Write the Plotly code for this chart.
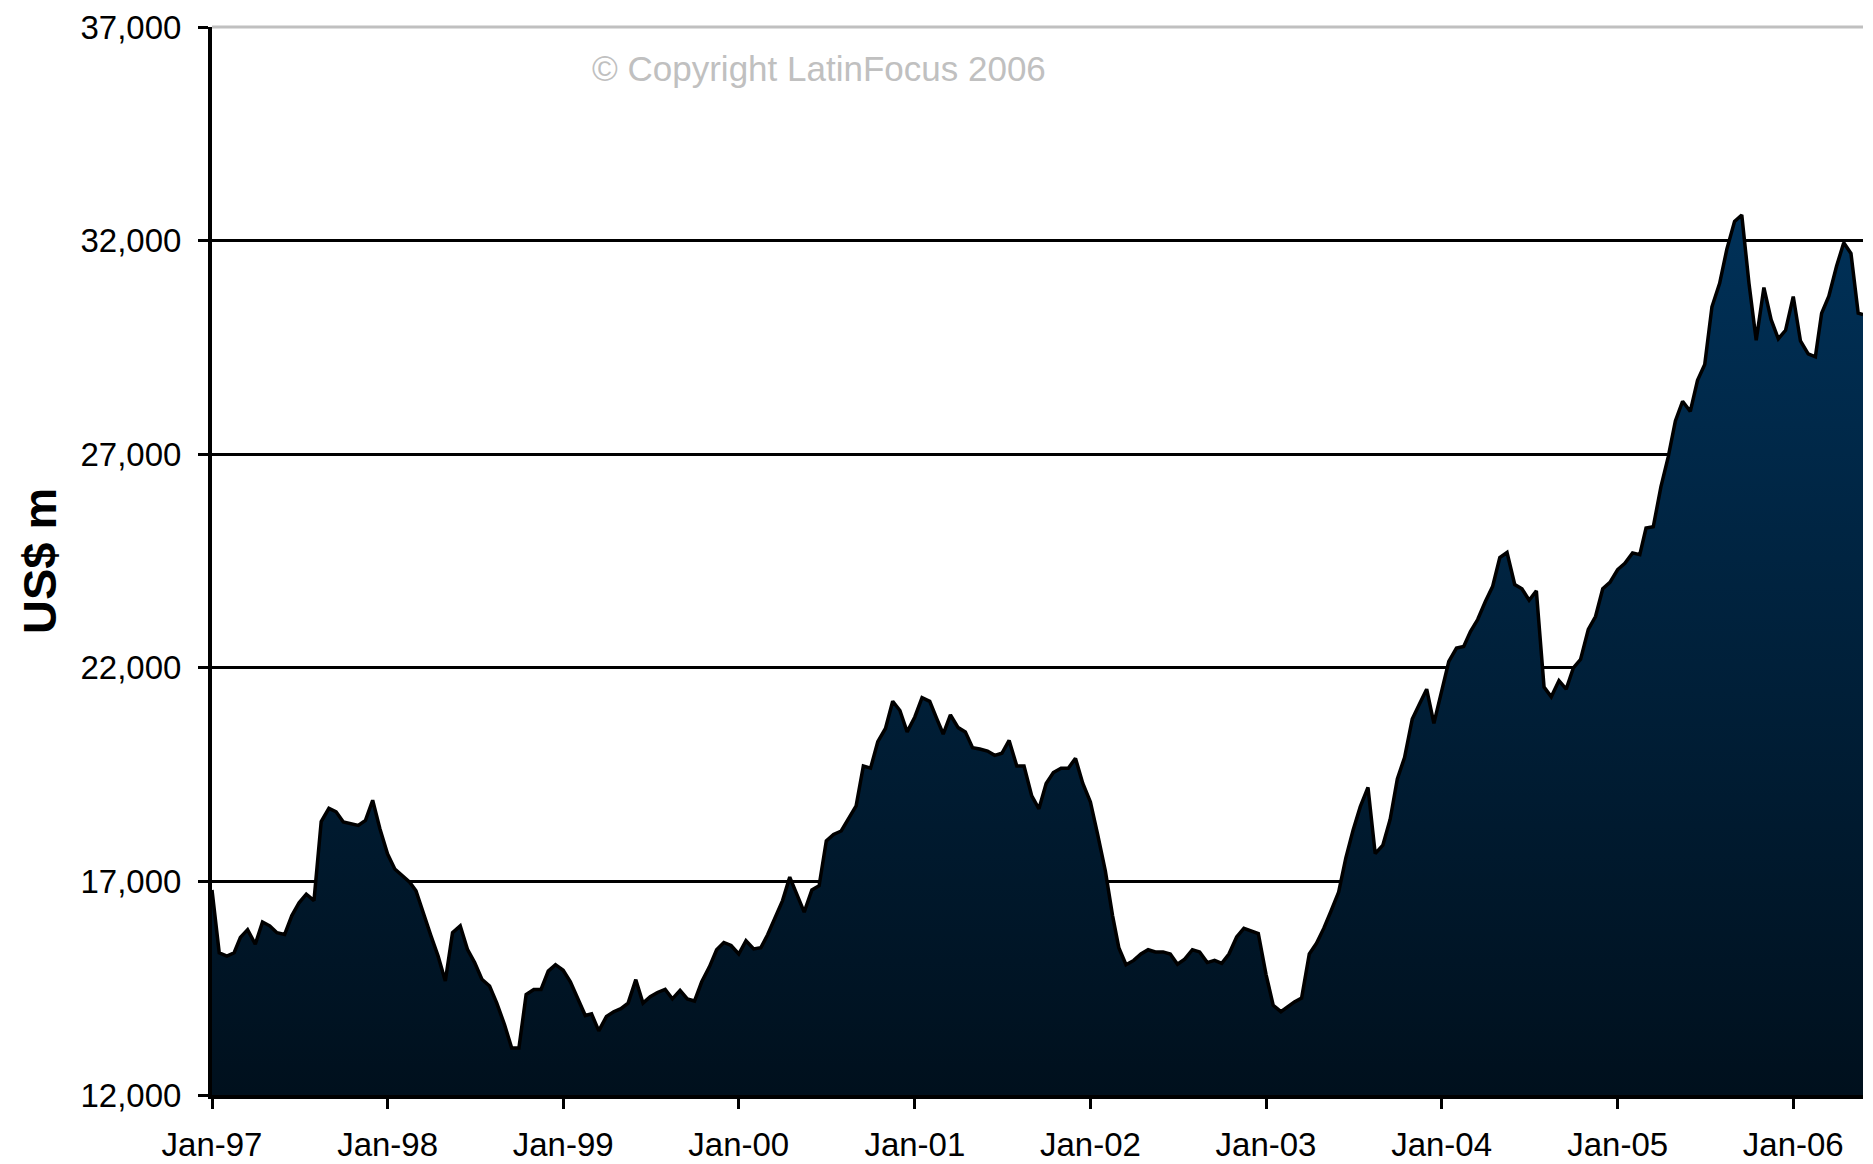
import plotly.graph_objects as go
import pandas as pd

# Semi-monthly readings (1st and 16th of each month), US$ m
v1997 = [16800, 15330, 15250, 15330, 15690, 15870, 15530, 16050, 15960, 15800, 15760, 16200,
         16500, 16700, 16550, 18400, 18710, 18630, 18390, 18350, 18310, 18430, 18900, 18235]
v1998 = [17640, 17290, 17140, 16980, 16780, 16240, 15730, 15250, 14670, 15800, 15960, 15410,
         15100, 14710, 14550, 14150, 13650, 13100, 13100, 14350, 14470, 14470, 14900, 15050]
v1999 = [14920, 14650, 14235, 13860, 13900, 13500, 13840, 13950, 14020, 14150, 14700, 14150,
         14300, 14400, 14470, 14250, 14450, 14250, 14200, 14650, 15000, 15400, 15570, 15500]
v2000 = [15300, 15610, 15420, 15450, 15750, 16150, 16550, 17100, 16700, 16280, 16800, 16900,
         17950, 18100, 18180, 18450, 18770, 19700, 19650, 20270, 20580, 21216, 21000, 20500]
v2001 = [20850, 21300, 21216, 20800, 20450, 20900, 20600, 20500, 20130, 20100, 20050, 19950,
         20000, 20300, 19700, 19700, 19000, 18700, 19290, 19550, 19650, 19650, 19880, 19300]
v2002 = [18860, 18100, 17250, 16200, 15450, 15050, 15150, 15300, 15400, 15350, 15350, 15300,
         15060, 15180, 15400, 15350, 15100, 15150, 15080, 15300, 15700, 15900, 15850, 15780]
v2003 = [14824, 14100, 13950, 14080, 14180, 14270, 15300, 15550, 15900, 16300, 16750, 17550,
         18200, 18750, 19200, 17650, 17850, 18450, 19400, 19900, 20800, 21150, 21500, 20700]
v2004 = [21420, 22150, 22460, 22500, 22850, 23130, 23550, 23900, 24580, 24700, 23950, 23850,
         23580, 23800, 21550, 21320, 21700, 21500, 22000, 22200, 22900, 23200, 23850, 24000]
v2005 = [24300, 24445, 24690, 24650, 25270, 25300, 26240, 26930, 27780, 28240, 28000, 28730,
         29100, 30450, 31000, 31800, 32450, 32600, 31000, 29665, 30900, 30150, 29700, 29900]
v2006 = [30690, 29650, 29350, 29280, 30300, 30700, 31400, 31950, 31700, 30300]
last_date, last_value = "2006-05-26", 30270

years = [1997, 1998, 1999, 2000, 2001, 2002, 2003, 2004, 2005, 2006]
yearly = [v1997, v1998, v1999, v2000, v2001, v2002, v2003, v2004, v2005, v2006]

y_ticks = [12000, 17000, 22000, 27000, 32000, 37000]

dates, values = [], []
for yr, vals in zip(years, yearly):
    for i, v in enumerate(vals):
        month = i // 2 + 1
        day = 1 if i % 2 == 0 else 16
        dates.append(pd.Timestamp(year=yr, month=month, day=day))
        values.append(v)
dates.append(pd.Timestamp(last_date))
values.append(last_value)

fig = go.Figure()
fig.add_trace(go.Scatter(
    x=dates, y=values, mode="lines",
    line=dict(color="black", width=3.5),
    fill="tozeroy",
    fillgradient=dict(type="vertical", start=12000, stop=34000,
                      colorscale=[[0, "#00101d"], [1, "#00335c"]]),
    hoverinfo="skip",
))

# the page body adds an 8px offset, so the figure is 8px smaller than the window
W, H = 1865, 1156
ml, mr, mt, mb = 204, 10, 19, 69
FONT = "Arial, Liberation Sans, sans-serif"
fig.update_layout(
    width=W, height=H,
    margin=dict(l=ml, r=mr, t=mt, b=mb, autoexpand=False),
    paper_bgcolor="white", plot_bgcolor="white",
    showlegend=False,
    font=dict(family=FONT, color="black", size=33),
    xaxis=dict(
        type="date", automargin=False,
        range=[dates[0], dates[-1]],
        tick0="1997-01-01", dtick="M12", tickformat="%b-%y",
        showgrid=False, zeroline=False,
        showline=True, linecolor="black", linewidth=4,
        ticks="outside", ticklen=10, tickwidth=3, tickcolor="black",
        ticklabelstandoff=7,
        tickfont=dict(size=33),
    ),
    yaxis=dict(
        automargin=False,
        range=[12000, 37000],
        tickvals=y_ticks, tickformat=",d",
        showgrid=True, gridcolor="black", gridwidth=3,
        zeroline=False,
        showline=True, linecolor="black", linewidth=4,
        ticks="outside", ticklen=10, tickwidth=3, tickcolor="black",
        ticklabelstandoff=10,
        tickfont=dict(size=33),
    ),
    shapes=[
        dict(type="line", xref="paper", yref="paper", x0=0, x1=1, y0=1, y1=1,
             line=dict(color="#c0c0c0", width=3), layer="above"),
    ],
    annotations=[
        dict(text="<b>US$ m</b>", xref="paper", yref="paper",
             x=(31 - ml) / (W - ml - mr), y=0.5, xanchor="center", yanchor="middle",
             textangle=-90, showarrow=False,
             font=dict(size=47, family=FONT, color="black")),
        dict(text="© Copyright LatinFocus 2006", xref="paper", yref="paper",
             x=(811 - ml) / (W - ml - mr), y=(H - mb - 61) / (H - mb - mt),
             xanchor="center", yanchor="middle", showarrow=False,
             font=dict(size=35, color="#c0c0c0", family=FONT)),
    ],
)

fig.write_html("out.html")
